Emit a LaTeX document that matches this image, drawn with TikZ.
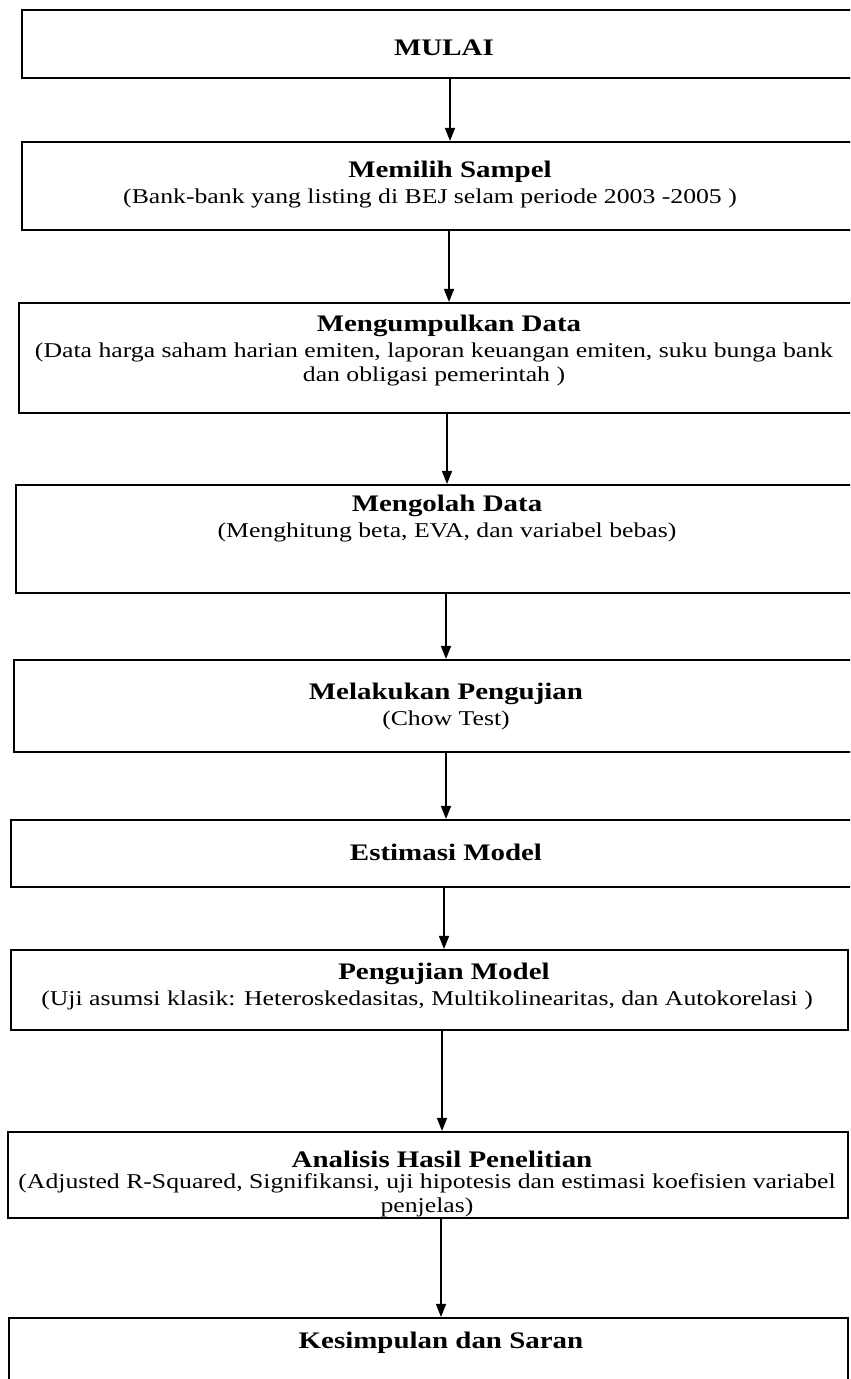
\documentclass[tikz,border=0pt]{standalone}
\usepackage{fontspec}
\setmainfont{Liberation Serif}[FakeStretch=1.22]
\usetikzlibrary{positioning}
\usetikzlibrary{fit}
\usetikzlibrary{arrows.meta}

\tikzset{
  stepbox/.style={draw, line width=1.2pt, inner sep=0pt},
  steptitle/.style={font=\fontsize{13.5}{15}\selectfont\bfseries, inner sep=0pt},
  stepnote/.style={font=\fontsize{12}{13.8}\selectfont, align=center, inner sep=0pt},
  flow/.style={line width=0.9pt, -{Triangle[length=0.26cm, width=0.2cm]}}
}

\begin{document}
\begin{tikzpicture}[x=0.02cm, y=-0.02cm]
\useasboundingbox (0,0) rectangle (850,1379);
\clip (0,0) rectangle (850,1379);

% kotak-kotak
\node[stepbox, fit={(22,10) (870,78)}] (b1) {};
\node[stepbox, fit={(22,142) (870,230)}] (b2) {};
\node[stepbox, fit={(19,303) (870,413)}] (b3) {};
\node[stepbox, fit={(16,485) (870,593)}] (b4) {};
\node[stepbox, fit={(14,660) (870,752)}] (b5) {};
\node[stepbox, fit={(11,820) (870,887)}] (b6) {};
\node[stepbox, fit={(11,950) (848,1030)}] (b7) {};
\node[stepbox, fit={(8,1132) (848,1218)}] (b8) {};
\node[stepbox, fit={(9,1318) (848,1420)}] (b9) {};

% teks
\node[steptitle] (t1) at (444,48) {MULAI};
\node[steptitle] (t2) at (450,172) {Memilih Sampel};
\node[stepnote, below=3pt of t2, xshift=-0.4cm] (s2) {(Bank-bank yang listing di BEJ selam periode 2003 -2005 )};
\node[steptitle] (t3) at (449,326) {Mengumpulkan Data};
\node[stepnote, below=3pt of t3, xshift=-0.3cm] (s3) {(Data harga saham harian emiten, laporan keuangan emiten, suku bunga bank\\dan obligasi pemerintah )};
\node[steptitle] (t4) at (447,506) {Mengolah Data};
\node[stepnote, below=3pt of t4] (s4) {(Menghitung beta, EVA, dan variabel bebas)};
\node[steptitle] (t5) at (446,694) {Melakukan Pengujian};
\node[stepnote, below=3pt of t5] (s5) {(Chow Test)};
\node[steptitle] (t6) at (446,852) {Estimasi Model};
\node[steptitle] (t7) at (444,974) {Pengujian Model};
\node[stepnote, below=3pt of t7, xshift=-0.34cm] (s7) {(Uji asumsi klasik: Heteroskedasitas, Multikolinearitas, dan Autokorelasi )};
\node[steptitle] (t8) at (442,1159) {Analisis Hasil Penelitian};
\node[stepnote, below=3pt of t8, xshift=-0.3cm] (s8) {(Adjusted R-Squared, Signifikansi, uji hipotesis dan estimasi koefisien variabel\\penjelas)};
\node[steptitle] (t9) at (441,1343) {Kesimpulan dan Saran};

% panah
\draw[flow] (b1.south -| t2) -- (b2.north -| t2);
\draw[flow] (b2.south -| t3) -- (b3.north -| t3);
\draw[flow] (b3.south -| t4) -- (b4.north -| t4);
\draw[flow] (b4.south -| t5) -- (b5.north -| t5);
\draw[flow] (b5.south -| t6) -- (b6.north -| t6);
\draw[flow] (b6.south -| t7) -- (b7.north -| t7);
\draw[flow] (b7.south -| t8) -- (b8.north -| t8);
\draw[flow] (b8.south -| t9) -- (b9.north -| t9);
\end{tikzpicture}
\end{document}
